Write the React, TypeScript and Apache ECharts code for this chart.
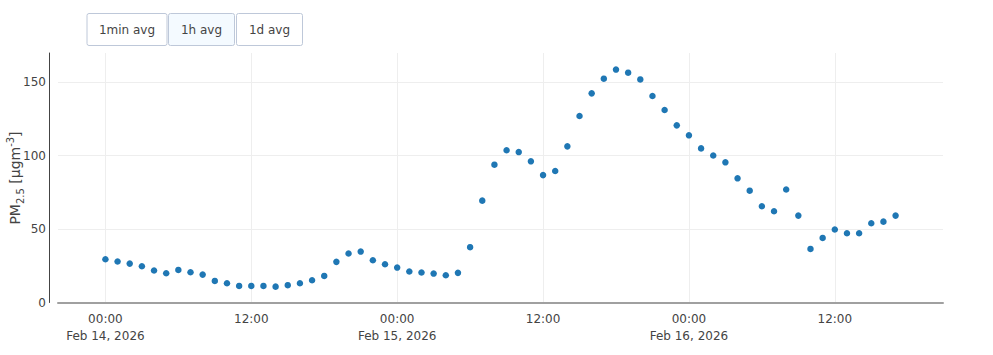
import React, { useEffect, useRef } from "react";
import * as echarts from "echarts";

const START_UTC = Date.UTC(2026, 1, 14, 0, 0, 0);

// PM2.5 hourly averages starting Feb 14, 2026 00:00 (x = hours since start)
const pmValues = [
  29.5, 27.9, 26.5, 24.7, 21.8, 19.9, 22.2, 20.6, 19.0, 14.7,
  13.1, 11.3, 11.3, 11.3, 10.8, 11.8, 13.1, 15.2, 18.1, 27.7,
  33.4, 34.7, 28.8, 26.1, 23.8, 21.1, 20.4, 19.7, 18.6, 20.2,
  37.7, 69.4, 93.9, 103.7, 102.5, 96.2, 86.8, 89.6, 106.4, 127.1,
  142.5, 152.5, 158.7, 156.6, 152.0, 140.7, 131.2, 120.7, 113.9, 105.0,
  100.2, 95.5, 84.6, 76.2, 65.6, 62.2, 77.0, 59.2, 36.5, 44.0,
  49.7, 47.2, 47.2, 54.0, 55.1, 59.2,
];

const xTickHours = [0, 12, 24, 36, 48, 60];
const yTicks = [0, 50, 100, 150];
const buttonLabels = ["1min avg", "1h avg", "1d avg"];
const activeButton = 1;
const yTitle = "{a|PM}{b|2.5}{a| [µgm}{c|-3}{a|]}";

const MONTHS = ["Jan", "Feb", "Mar", "Apr", "May", "Jun", "Jul", "Aug", "Sep", "Oct", "Nov", "Dec"];

const pad2 = (n: number) => (n < 10 ? "0" + n : "" + n);

function fmtX(h: number): string {
  const d = new Date(START_UTC + Math.round(h * 60) * 60000);
  const hh = pad2(d.getUTCHours()) + ":" + pad2(d.getUTCMinutes());
  if (d.getUTCHours() === 0 && d.getUTCMinutes() === 0) {
    return hh + "\n" + MONTHS[d.getUTCMonth()] + " " + d.getUTCDate() + ", " + d.getUTCFullYear();
  }
  return hh;
}

export default function App() {
  const ref = useRef<HTMLDivElement>(null);
  useEffect(() => {
    if (!ref.current) return;
    const chart = echarts.init(ref.current, null, { renderer: "svg" });
    const font = "DejaVu Sans, Verdana, sans-serif";
    const data = pmValues.map((v, i) => [i, v]);

    const btnX = [87, 168.5, 236.5];
    const btnW = [80, 66, 66];
    const graphics: any[] = [];
    buttonLabels.forEach((lab, i) => {
      graphics.push({
        type: "rect",
        shape: { x: btnX[i], y: 13.5, width: btnW[i], height: 32, r: 2 },
        style: { fill: i === activeButton ? "#F4FAFF" : "#ffffff", stroke: "#BEC8D9", lineWidth: 1 },
        silent: true,
      });
      graphics.push({
        type: "text",
        x: btnX[i] + btnW[i] / 2,
        y: 29.5,
        style: {
          text: lab,
          fill: "#444444",
          font: "12px " + font,
          align: "center",
          verticalAlign: "middle",
        },
        silent: true,
      });
    });
    graphics.push({
      type: "text",
      x: 15,
      y: 178,
      rotation: Math.PI / 2,
      silent: true,
      style: {
        text: yTitle,
        fill: "#444444",
        fontFamily: font,
        fontSize: 14,
        align: "center",
        verticalAlign: "middle",
        rich: {
          a: { fontSize: 14, fill: "#444444", fontFamily: font, lineHeight: 20, verticalAlign: "middle" },
          b: { fontSize: 10, fill: "#444444", fontFamily: font, lineHeight: 20, verticalAlign: "bottom" },
          c: { fontSize: 10, fill: "#444444", fontFamily: font, lineHeight: 20, verticalAlign: "top" },
        },
      },
    });

    chart.setOption({
      animation: false,
      backgroundColor: "#ffffff",
      textStyle: { fontFamily: font },
      grid: {
        left: 58,
        right: 50,
        top: 53,
        bottom: 52.5,
        containLabel: false,
        outerBoundsMode: "none",
      },
      graphic: graphics,
      xAxis: {
        type: "value",
        min: -3.9,
        max: 68.9,
        axisLine: { show: true, onZero: false, lineStyle: { color: "#a0a0a0", width: 2 } },
        axisTick: { show: false, customValues: xTickHours },
        axisLabel: {
          customValues: xTickHours,
          formatter: (v: number) => fmtX(v),
          color: "#444444",
          fontSize: 12,
          fontFamily: font,
          lineHeight: 17,
          margin: 8,
          hideOverlap: false,
        },
        splitLine: { show: true, lineStyle: { color: "#eeeeee", width: 1 } },
      },
      yAxis: {
        type: "value",
        min: 0,
        max: 170,
        offset: 9,
        axisLine: { show: true, onZero: false, lineStyle: { color: "#444444", width: 1 } },
        axisTick: { show: false, customValues: yTicks },
        axisLabel: { customValues: yTicks, color: "#444444", fontSize: 12, fontFamily: font, margin: 3 },
        splitLine: { show: true, lineStyle: { color: "#eeeeee", width: 1 } },
      },
      series: [
        {
          type: "scatter",
          data,
          symbol: "circle",
          symbolSize: 6.5,
          itemStyle: { color: "#1f77b4", opacity: 1 },
          silent: true,
        },
      ],
    });
    return () => chart.dispose();
  }, []);
  return (
    <div
      ref={ref}
      style={{ position: "fixed", left: 0, top: 0, width: 993, height: 355 }}
    />
  );
}
